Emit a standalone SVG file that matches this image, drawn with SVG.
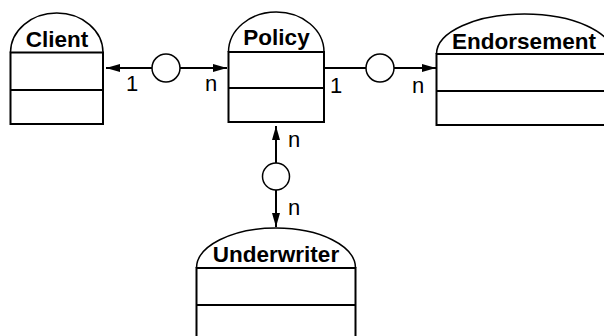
<svg xmlns="http://www.w3.org/2000/svg" width="604" height="336" viewBox="0 0 604 336">
  <defs>
    <style>
      .box { fill: none; stroke: #000; stroke-width: 2; }
      .dome { fill: none; stroke: #000; stroke-width: 1.5; }
      .title { font-family: "Liberation Sans", Arial, sans-serif; font-weight: bold; font-size: 22.5px; text-anchor: middle; fill: #000; }
      .line { fill: none; stroke: #000; stroke-width: 2; }
      .rel { fill: #fff; stroke: #000; stroke-width: 1.5; }
      .card { font-family: "Liberation Sans", Arial, sans-serif; font-size: 22px; fill: #000; }
    </style>
    <marker id="arrow" viewBox="0 0 14 8" refX="14" refY="4" markerWidth="14" markerHeight="8" markerUnits="userSpaceOnUse" orient="auto">
      <path d="M0,0 L14,4 L0,8 Z" fill="#000"/>
    </marker>
  </defs>
  <rect width="604" height="336" fill="#fff"/>

  <g id="client">
    <path class="dome" d="M10.5,52.5 A46.25,39.5 0 0 1 103,52.5"/>
    <rect class="box" x="10.5" y="52.5" width="92.5" height="71.5"/>
    <line class="box" x1="10.5" y1="90" x2="103" y2="90"/>
    <text class="title" x="57" y="46.5">Client</text>
  </g>

  <g id="policy">
    <path class="dome" d="M228.5,52 A47.75,40 0 0 1 324,52"/>
    <rect class="box" x="228.5" y="52" width="95.5" height="70"/>
    <line class="box" x1="228.5" y1="88" x2="324" y2="88"/>
    <text class="title" x="276.5" y="45">Policy</text>
  </g>

  <g id="endorsement">
    <path class="dome" d="M436.5,54 A88,40 0 0 1 612.5,54"/>
    <rect class="box" x="436.5" y="54" width="176" height="71"/>
    <line class="box" x1="436.5" y1="91" x2="612.5" y2="91"/>
    <text class="title" x="524" y="49">Endorsement</text>
  </g>

  <g id="underwriter">
    <path class="dome" d="M196.5,268 A79.5,40 0 0 1 355.5,268"/>
    <rect class="box" x="196.5" y="268" width="159" height="80"/>
    <line class="box" x1="196.5" y1="305" x2="355.5" y2="305"/>
    <text class="title" x="276" y="262">Underwriter</text>
  </g>

  <g id="connectors">
    <!-- Client / Policy -->
    <line class="line" x1="152" y1="68" x2="106" y2="68" marker-end="url(#arrow)"/>
    <line class="line" x1="180" y1="68" x2="227" y2="68" marker-end="url(#arrow)"/>
    <circle class="rel" cx="166" cy="68" r="14"/>
    <text class="card" x="126" y="91">1</text>
    <text class="card" x="205" y="91">n</text>

    <!-- Policy / Endorsement -->
    <line class="line" x1="325" y1="68" x2="366" y2="68"/>
    <line class="line" x1="394" y1="68" x2="436" y2="68" marker-end="url(#arrow)"/>
    <circle class="rel" cx="380" cy="68" r="14"/>
    <text class="card" x="330" y="93">1</text>
    <text class="card" x="412" y="93">n</text>

    <!-- Policy / Underwriter -->
    <line class="line" x1="276" y1="163" x2="276" y2="126" marker-end="url(#arrow)"/>
    <line class="line" x1="276" y1="190" x2="276" y2="227" marker-end="url(#arrow)"/>
    <circle class="rel" cx="276" cy="176.5" r="13.5"/>
    <text class="card" x="288" y="147">n</text>
    <text class="card" x="288" y="215">n</text>
  </g>
</svg>
